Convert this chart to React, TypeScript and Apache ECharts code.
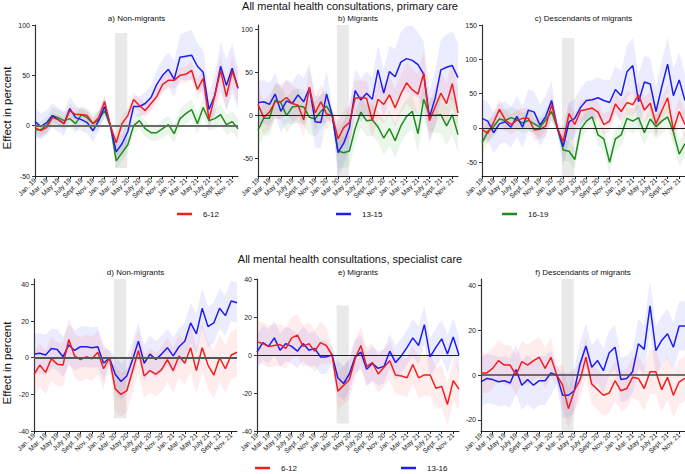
import React, { useEffect, useRef } from 'react';
import * as echarts from 'echarts';

const FONT = 'Liberation Sans, Arial, Helvetica, sans-serif';
const RED = '#f21d1d';
const BLUE = '#1d1df2';
const GREEN = '#1f8a1f';
const RED_BAND = 'rgba(255,40,40,0.09)';
const BLUE_BAND = 'rgba(40,40,255,0.09)';
const GREEN_BAND = 'rgba(20,150,20,0.09)';

// x tick labels (every second month, Jan 2019 - Dec 2021, 36 months)
const xTickLabels = ['Jan. 19', 'Mar. 19', 'May 19', 'July 19', 'Sept. 19', 'Nov. 19', 'Jan. 20', 'Mar. 20', 'May 20', 'July 20', 'Sept. 20', 'Nov. 20', 'Jan. 21', 'Mar. 21', 'May 21', 'July 21', 'Sept. 21', 'Nov. 21'];
const xTickIndex = [0, 2, 4, 6, 8, 10, 12, 14, 16, 18, 20, 22, 24, 26, 28, 30, 32, 34];

// a) primary care, non-migrants
const a612 = [-2, -5, -2, 8, 6, 2, 15, 11, 11, 10, 2, 8, 24, 0, -17, 2, 10, 26, 20, 15, 22, 29, 41, 45, 45, 50, 51, 55, 36, 47, 6, 30, 55, 29, 54, 38];
const a1315 = [4, -1, 3, 10, 6, 2, 17, 8, 6, 3, -5, 5, 19, 0, -26, -18, -6, 19, 19, 22, 28, 41, 50, 56, 46, 68, 69, 70, 59, 53, 16, 30, 59, 40, 57, 37];
const a1619 = [-4, -4, 0, 10, 8, 5, 7, 2, 11, 8, 2, 6, 15, 0, -35, -27, -19, 0, 5, -3, -7, -7, -3, 1, -8, 7, 12, 16, 2, 18, 5, 7, 11, 1, 4, -3];
const a612hw = [5, 5, 5, 5, 5, 6, 6, 6, 6, 6, 6, 6, 6, 3, 8, 7, 7, 7, 7, 7, 7, 8, 8, 8, 8, 8, 8, 9, 10, 10, 10, 12, 14, 14, 15, 15];
const a1315hw = [13, 13, 12, 12, 12, 12, 12, 12, 11, 11, 11, 10, 10, 4, 10, 10, 10, 10, 10, 11, 12, 14, 16, 17, 18, 22, 24, 25, 23, 22, 16, 20, 25, 25, 25, 20];
const a1619hw = [8, 8, 8, 8, 8, 8, 9, 9, 9, 9, 9, 9, 8, 3, 8, 8, 8, 8, 8, 8, 8, 8, 9, 9, 9, 9, 10, 10, 10, 10, 10, 10, 10, 10, 10, 10];

// b) primary care, migrants
const b612 = [13, -2, 4, 16, 16, 21, 14, 12, -5, 33, 3, 16, 2, 0, -27, -14, -8, 20, 21, 20, -6, 19, 13, 24, 9, 25, 38, 30, 25, 49, -6, 10, 26, 14, 37, 3];
const b1315 = [15, 16, 13, 25, 5, 17, 14, 24, 16, 32, -7, -8, 25, 0, -43, -32, -14, 29, 18, 26, 19, 53, 26, 51, 45, 62, 66, 64, 59, 48, -2, 20, 53, 56, 58, 44];
const b1619 = [-17, -3, -3, 18, 15, 0, 10, 11, 10, -2, -4, 5, 11, 0, -41, -43, -41, -15, 4, -6, -5, -13, -26, -15, -29, -12, -1, 5, -21, 19, 1, 0, 1, -12, 1, -22];
const b612hw = [20, 20, 20, 20, 20, 20, 20, 20, 20, 20, 20, 20, 18, 6, 20, 20, 20, 20, 20, 20, 20, 22, 22, 22, 22, 22, 24, 24, 24, 26, 22, 22, 24, 24, 26, 26];
const b1315hw = [25, 25, 25, 25, 25, 25, 25, 25, 28, 28, 30, 30, 28, 8, 28, 25, 25, 25, 25, 25, 25, 28, 28, 30, 32, 35, 38, 40, 38, 38, 30, 32, 35, 38, 40, 40];
const b1619hw = [20, 20, 20, 20, 20, 20, 20, 20, 20, 20, 20, 20, 18, 6, 20, 18, 18, 18, 18, 18, 18, 18, 20, 20, 20, 20, 20, 20, 22, 22, 20, 20, 22, 22, 22, 22];

// c) primary care, descendants of migrants
const c612 = [-2, -8, 8, 27, 12, 5, 11, 14, 14, -3, -2, 3, 34, 0, -20, 21, 5, 25, 27, 29, 23, 5, 10, 35, 24, 37, 34, 48, 26, 36, 6, 25, 44, -3, 24, 5];
const c1315 = [14, 10, -7, 6, 9, 1, 17, 1, 26, 23, 4, 17, 40, 0, -27, 9, 14, 30, 40, 41, 44, 40, 37, 56, 47, 82, 91, 38, 67, 64, 24, 60, 93, 47, 70, 40];
const c1619 = [-22, -5, 2, 13, 11, 15, 12, 7, 11, 6, 1, 12, 24, 0, -32, -34, -46, -2, 10, 16, -10, -16, -50, -16, -10, 14, 10, 15, -7, 13, 2, 10, 16, -6, -38, -23];
const c612hw = [15, 15, 15, 15, 15, 15, 15, 15, 15, 15, 15, 15, 15, 5, 15, 15, 15, 15, 15, 15, 15, 15, 16, 16, 16, 17, 17, 18, 18, 18, 18, 18, 19, 19, 20, 20];
const c1315hw = [28, 28, 30, 30, 30, 30, 30, 30, 30, 30, 30, 30, 28, 8, 28, 28, 28, 28, 28, 28, 30, 30, 32, 34, 36, 38, 40, 40, 38, 38, 36, 38, 40, 40, 40, 38];
const c1619hw = [15, 15, 15, 15, 15, 15, 15, 15, 15, 15, 15, 15, 14, 5, 15, 15, 15, 15, 15, 15, 16, 16, 17, 17, 17, 17, 18, 18, 18, 18, 18, 18, 18, 18, 18, 18];

// d) specialist care, non-migrants
const d612 = [-9, -4, -8, -0.5, -3.5, -4, 10, 1, -1, 0.5, -0.5, 3, -6, 0, -17, -20, -18, -7, 4, -10, -7, -9, -6.5, -1, -7, 1, -3, 5.5, -7, 5.5, -4, -9.5, 0, -6, 1.5, 3];
const d1316 = [2, 2.5, 1.5, 5, 4.5, 0.5, 7, 4, 6, 6, 5.5, 6, -3, 0, -9, -13, -10, -1, 9, -3, 2, -1, 2, 5.5, 1, 6, 9, 19, 13, 27, 17, 19, 27, 23, 31, 30];
const d612hw = [12, 12, 12, 12, 12, 12, 12, 12, 12, 12, 12, 12, 11, 4, 12, 12, 12, 12, 12, 12, 12, 12, 12, 12, 12, 12, 12, 13, 13, 13, 13, 13, 13, 13, 13, 13];
const d1316hw = [11, 11, 11, 11, 11, 11, 11, 11, 11, 11, 11, 11, 10, 4, 10, 10, 10, 10, 10, 10, 10, 10, 10, 10, 10, 10, 10, 11, 11, 11, 11, 11, 11, 11, 11, 11];

// e) specialist care, migrants
const e612 = [7, 6, 4.5, 5, 5.5, 3.5, 9, 10.5, 4.5, 6, 2, 6.5, 5, 0, -19, -16, -13, -2, 5, -6, -4, -10, -6.5, -3, -10.5, -11, -12, -5, -12, -10.5, -10.5, -17.5, -16.5, -26, -13.5, -18];
const e1316 = [1.5, 6.5, 4.5, 9, 2.5, 6, 4.5, 2, 6, 2.5, 3.5, -1, -1, 0, -12, -15, -10, -1, 1.5, -7.5, -4.5, -7, -6, 2, -4, -0.5, 4, 9, 5, 16, -1, 4, 8.5, 0.5, 9.5, 0];
const e612hw = [11, 11, 11, 11, 11, 11, 11, 11, 11, 11, 11, 11, 10, 4, 10, 10, 10, 10, 10, 10, 10, 10, 10, 10, 10, 10, 10, 10, 11, 11, 11, 11, 11, 11, 11, 11];
const e1316hw = [9, 9, 9, 9, 9, 9, 9, 9, 9, 9, 9, 9, 9, 4, 9, 9, 9, 9, 9, 9, 9, 9, 9, 9, 9, 9, 9, 10, 10, 10, 10, 10, 10, 10, 10, 10];

// f) specialist care, descendants of migrants
const f612 = [1, 1, 3, 6.5, 4.5, 4.5, 0, 6, 4.5, 6.5, 8, 3, 8, 0, -4.5, -15, -7, -2, 8, -4, -6.5, -9, -8, -2.5, -7, -6, -1, -1.5, -6, 1.5, 1.5, -6.5, -1, -9, -3, -1.5];
const f1316 = [-3, -1.5, -2, -3, -2.5, -3.5, 2.5, -4.5, -2, -4.5, -2.5, -2.5, 1, 0, -9, -9, -7, 5, 13, 3.5, 6.5, 2, 10, 12.5, -2, -1.5, 1.5, 14, 11.5, 31, 11, 15.5, 18.5, 12.5, 22, 22];
const f612hw = [9, 9, 9, 9, 9, 9, 9, 9, 9, 9, 9, 9, 9, 4, 9, 9, 9, 9, 9, 9, 9, 9, 9, 9, 9, 9, 9, 10, 10, 10, 10, 10, 10, 10, 10, 10];
const f1316hw = [11, 11, 11, 11, 11, 11, 11, 11, 11, 11, 11, 11, 10, 4, 10, 10, 10, 10, 10, 10, 10, 10, 10, 10, 10, 10, 10, 11, 11, 11, 11, 11, 11, 11, 11, 11];

type Line = { v: number[]; hw: number[]; color: string; band: string };
type Panel = {
  grid: { left: number; top: number; width: number; height: number };
  yMin: number; yMax: number; yTicks: number[];
  title: string; shade: [number, number];
  zero: { color: string; width: number };
  lines: Line[];
};

const panels: Panel[] = [
  { grid: { left: 35, top: 25, width: 203, height: 151 }, yMin: -50, yMax: 100, yTicks: [-50, 0, 50, 100], title: 'a) Non-migrants', shade: [-42, 92], zero: { color: '#6a6a6a', width: 2 },
    lines: [ { v: a1619, hw: a1619hw, color: GREEN, band: GREEN_BAND }, { v: a1315, hw: a1315hw, color: BLUE, band: BLUE_BAND }, { v: a612, hw: a612hw, color: RED, band: RED_BAND } ] },
  { grid: { left: 258, top: 25, width: 200, height: 151 }, yMin: -70, yMax: 105, yTicks: [-50, 0, 50, 100], title: 'b) Migrants', shade: [-70, 105], zero: { color: '#222', width: 1 },
    lines: [ { v: b1619, hw: b1619hw, color: GREEN, band: GREEN_BAND }, { v: b1315, hw: b1315hw, color: BLUE, band: BLUE_BAND }, { v: b612, hw: b612hw, color: RED, band: RED_BAND } ] },
  { grid: { left: 482, top: 25, width: 203, height: 151 }, yMin: -70, yMax: 150, yTicks: [-50, 0, 50, 100, 150], title: 'c) Descendants of migrants', shade: [-70, 131], zero: { color: '#222', width: 1.2 },
    lines: [ { v: c1619, hw: c1619hw, color: GREEN, band: GREEN_BAND }, { v: c1315, hw: c1315hw, color: BLUE, band: BLUE_BAND }, { v: c612, hw: c612hw, color: RED, band: RED_BAND } ] },
  { grid: { left: 34, top: 279, width: 203, height: 152 }, yMin: -40, yMax: 43, yTicks: [-40, -20, 0, 20, 40], title: 'd) Non-migrants', shade: [-33, 43], zero: { color: '#555', width: 2 },
    lines: [ { v: d1316, hw: d1316hw, color: BLUE, band: BLUE_BAND }, { v: d612, hw: d612hw, color: RED, band: RED_BAND } ] },
  { grid: { left: 257, top: 279, width: 202, height: 152 }, yMin: -40, yMax: 40, yTicks: [-40, -20, 0, 20, 40], title: 'e) Migrants', shade: [-36, 26], zero: { color: '#222', width: 1 },
    lines: [ { v: e1316, hw: e1316hw, color: BLUE, band: BLUE_BAND }, { v: e612, hw: e612hw, color: RED, band: RED_BAND } ] },
  { grid: { left: 481, top: 279, width: 204, height: 152 }, yMin: -25, yMax: 43, yTicks: [-20, 0, 20, 40], title: 'f) Descendants of migrants', shade: [-25, 43], zero: { color: '#444', width: 1.5 },
    lines: [ { v: f1316, hw: f1316hw, color: BLUE, band: BLUE_BAND }, { v: f612, hw: f612hw, color: RED, band: RED_BAND } ] },
];

function bandSeries(k: number, line: Line) {
  const lo = line.v.map((v, i) => v - line.hw[i]);
  const hi = line.v.map((v, i) => v + line.hw[i]);
  return {
    type: 'custom', xAxisIndex: k, yAxisIndex: k, z: 2, silent: true, clip: true,
    data: line.v.map((v, i) => [i, lo[i], hi[i]]),
    renderItem: (params: any, api: any) => {
      if (params.dataIndex !== 0) return null;
      const pts: number[][] = [];
      for (let i = 0; i < hi.length; i++) pts.push(api.coord([i, hi[i]]));
      for (let i = lo.length - 1; i >= 0; i--) pts.push(api.coord([i, lo[i]]));
      return { type: 'polygon', shape: { points: pts }, style: { fill: line.band } };
    },
  };
}

export default function App() {
  const ref = useRef<HTMLDivElement>(null);
  useEffect(() => {
    if (!ref.current) return;
    const chart = echarts.init(ref.current, undefined, { renderer: 'svg' });
    const grids: any[] = [];
    const xAxes: any[] = [];
    const yAxes: any[] = [];
    const series: any[] = [];
    const graphic: any[] = [];
    panels.forEach((p, k) => {
      grids.push({ ...p.grid, containLabel: false });
      xAxes.push({
        type: 'value', gridIndex: k, min: 0, max: 35,
        axisLine: { show: true, onZero: false, lineStyle: { color: '#222', width: 1 } },
        axisTick: { show: true, customValues: xTickIndex, length: 3, lineStyle: { color: '#222' } },
        axisLabel: { customValues: xTickIndex, formatter: (v: number) => xTickLabels[Math.round(v / 2)], rotate: 45, fontSize: 6.8, color: '#222', margin: 3, fontFamily: FONT, showMinLabel: true, showMaxLabel: true, hideOverlap: false },
        splitLine: { show: false },
      });
      yAxes.push({
        type: 'value', gridIndex: k, min: p.yMin, max: p.yMax,
        axisLine: { show: true, onZero: false, lineStyle: { color: '#333', width: 1.2 } },
        axisTick: { show: true, customValues: p.yTicks, length: 3, lineStyle: { color: '#333' } },
        axisLabel: { show: false },
        splitLine: { show: false },
      });
      // grey lockdown shading
      series.push({
        type: 'line', xAxisIndex: k, yAxisIndex: k, z: 1, data: [], silent: true,
        markArea: { silent: true, itemStyle: { color: '#e9e9e9' }, data: [[{ coord: [13.8, p.shade[0]] }, { coord: [15.9, p.shade[1]] }]] },
      });
      p.lines.forEach((l) => series.push(bandSeries(k, l)));
      // zero reference line
      series.push({
        type: 'line', xAxisIndex: k, yAxisIndex: k, z: 3, data: [], silent: true,
        markLine: { silent: true, symbol: 'none', label: { show: false }, lineStyle: { color: p.zero.color, width: p.zero.width, type: 'solid' }, data: [{ yAxis: 0 }] },
      });
      p.lines.forEach((l) => series.push({
        type: 'line', xAxisIndex: k, yAxisIndex: k, z: 4, showSymbol: false, silent: true,
        data: l.v.map((v, i) => [i, v]),
        lineStyle: { color: l.color, width: 1.5 }, itemStyle: { color: l.color },
      }));
      graphic.push({ type: 'text', x: p.grid.left + p.grid.width / 2, y: p.grid.top - 7, style: { text: p.title, fontSize: 8, fontFamily: FONT, fill: '#111', align: 'center', verticalAlign: 'middle', textAlign: 'center', textVerticalAlign: 'middle' } });
    });
    const txt = (text: string, x: number, y: number, size: number, extra: any = {}) => ({
      type: 'text', x, y, ...extra,
      style: { text, fontSize: size, fontFamily: FONT, fill: '#111', align: 'center', verticalAlign: 'middle', textAlign: 'center', textVerticalAlign: 'middle' },
    });
    graphic.push(txt('All mental health consultations, primary care', 350, 6, 11));
    graphic.push(txt('All mental health consultations, specialist care', 350, 259, 11));
    graphic.push(txt('Effect in percent', 7, 108, 11.5, { rotation: Math.PI / 2 }));
    graphic.push(txt('Effect in percent', 7, 363, 11.5, { rotation: Math.PI / 2 }));
    const legendItem = (color: string, label: string, x: number, y: number) => {
      graphic.push({ type: 'line', shape: { x1: x, y1: y, x2: x + 15, y2: y }, style: { stroke: color, lineWidth: 2.5 } });
      graphic.push({ type: 'text', x: x + 26, y, style: { text: label, fontSize: 8, fontFamily: FONT, fill: '#111', align: 'left', verticalAlign: 'middle', textAlign: 'left', textVerticalAlign: 'middle' } });
    };
    legendItem(RED, '6-12', 177, 214);
    legendItem(BLUE, '13-15', 336, 214);
    legendItem(GREEN, '16-19', 502, 214);
    legendItem(RED, '6-12', 255, 468);
    legendItem(BLUE, '13-16', 401, 468);

    chart.setOption({
      animation: false,
      backgroundColor: '#fff',
      textStyle: { fontFamily: FONT },
      grid: grids, xAxis: xAxes, yAxis: yAxes, series, graphic,
    });

    // y tick labels, placed through each panel's own y scale
    const yLabels: any[] = [];
    panels.forEach((p, k) => {
      p.yTicks.forEach((t) => {
        const pt = chart.convertToPixel({ xAxisIndex: k, yAxisIndex: k } as any, [0, t]) as unknown as number[];
        if (!pt) return;
        yLabels.push({
          type: 'text', x: pt[0] - 5, y: pt[1],
          style: { text: String(t), fontSize: 7, fontFamily: FONT, fill: '#222', align: 'right', verticalAlign: 'middle', textAlign: 'right', textVerticalAlign: 'middle' },
        });
      });
    });
    chart.setOption({ graphic: [...graphic, ...yLabels] });
    return () => chart.dispose();
  }, []);
  return <div ref={ref} style={{ position: 'absolute', left: 0, top: 0, width: 685, height: 474 }} />;
}
